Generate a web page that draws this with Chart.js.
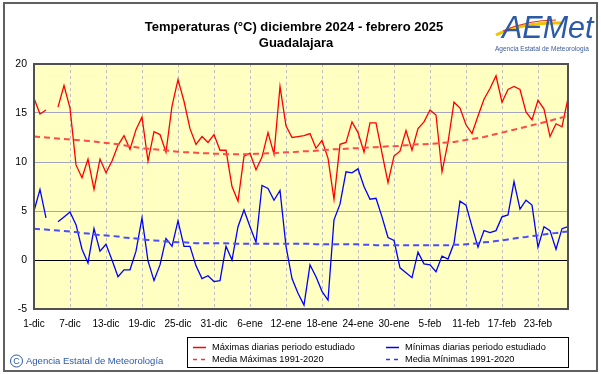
<!DOCTYPE html>
<html>
<head>
<meta charset="utf-8">
<script src="https://cdn.jsdelivr.net/npm/chart.js@4.4.1/dist/chart.umd.min.js"></script>
<style>
  body { margin: 0; background: #fff; }
  #grafico { display: block; }
</style>
</head>
<body>
<canvas id="grafico" width="601" height="374"></canvas>
<script>
// Datos diarios 1-dic-2024 .. 28-feb-2025
const meses = [['dic', 31], ['ene', 31], ['feb', 28]];
const dias = [];
meses.forEach(([m, n]) => {
  for (let d = 1; d <= n; d++) dias.push(d + '-' + m);
});

const maximas = [16.5, 14.9, 15.3, null, 15.6, 17.8, 15.5, 9.7, 8.4, 10.3,
  7.2, 10.3, 8.9, 10.1, 11.7, 12.7, 11.3, 13.3, 14.6, 10.1,
  13.1, 12.8, 11.0, 15.7, 18.4, 16.2, 13.4, 11.8, 12.6, 12.0,
  12.8, 11.2, 11.2, 7.5, 6.0, 10.6, 10.9, 9.2, 10.5, 13.0,
  10.8, 17.7, 13.7, 12.5, 12.6, 12.7, 12.9, 11.4, 12.2, 10.4,
  6.2, 11.8, 12.0, 14.1, 13.0, 11.0, 14.0, 14.0, 10.9, 7.9,
  10.6, 11.1, 13.2, 11.2, 13.4, 14.1, 15.3, 14.8, 9.0, 12.0,
  16.1, 15.5, 13.8, 12.9, 14.7, 16.4, 17.5, 18.8, 16.1, 17.4,
  17.7, 17.4, 15.1, 14.3, 16.3, 15.4, 12.6, 13.9, 13.6, 16.5];

const minimas = [5.0, 7.2, 4.3, null, 3.9, 4.4, 4.9, 3.6, 1.1, -0.3,
  3.2, 0.9, 1.6, 0.0, -1.7, -1.0, -1.0, 0.9, 4.3, -0.1,
  -2.1, -0.5, 2.2, 1.4, 4.0, 1.4, 1.4, -0.6, -1.9, -1.6,
  -2.2, -2.1, 1.4, 0.0, 3.4, 5.1, 3.4, 1.8, 7.6, 7.3,
  6.1, 7.1, 1.4, -1.9, -3.4, -4.6, -0.5, -1.7, -3.2, -4.1,
  4.1, 5.7, 9.0, 8.9, 9.3, 7.5, 6.2, 6.3, 4.4, 2.3,
  2.0, -0.8, -1.3, -1.8, 0.8, -0.4, -0.5, -1.2, 0.4, 0.1,
  1.7, 6.0, 5.6, 3.4, 1.3, 3.0, 2.8, 3.0, 4.4, 4.6,
  8.0, 5.2, 6.1, 5.6, 1.3, 3.4, 3.0, 1.1, 3.2, 3.4];

// Medias 1991-2020
const mediaMaximas = [12.6, 12.55, 12.5, 12.45, 12.4, 12.35, 12.3, 12.25, 12.2, 12.15,
  12.1, 12.0, 11.95, 11.9, 11.8, 11.7, 11.6, 11.5, 11.4, 11.35,
  11.3, 11.25, 11.2, 11.1, 11.05, 11.0, 11.0, 10.95, 10.9, 10.9,
  10.85, 10.85, 10.8, 10.8, 10.8, 10.8, 10.8, 10.85, 10.85, 10.9,
  10.9, 10.95, 11.0, 11.0, 11.05, 11.1, 11.1, 11.15, 11.2, 11.25,
  11.3, 11.3, 11.35, 11.4, 11.4, 11.45, 11.5, 11.5, 11.55, 11.6,
  11.6, 11.65, 11.7, 11.75, 11.8, 11.8, 11.85, 11.9, 11.95, 12.0,
  12.05, 12.15, 12.25, 12.35, 12.45, 12.55, 12.7, 12.85, 13.0, 13.15,
  13.3, 13.45, 13.6, 13.75, 13.9, 14.05, 14.2, 14.4, 14.55, 14.7];

const mediaMinimas = [3.2, 3.15, 3.1, 3.05, 3.0, 2.95, 2.9, 2.85, 2.75, 2.7,
  2.6, 2.55, 2.5, 2.45, 2.4, 2.3, 2.25, 2.2, 2.1, 2.05,
  2.0, 1.95, 1.9, 1.85, 1.8, 1.8, 1.75, 1.7, 1.7, 1.7,
  1.7, 1.7, 1.7, 1.65, 1.65, 1.65, 1.65, 1.65, 1.65, 1.65,
  1.65, 1.65, 1.65, 1.65, 1.65, 1.65, 1.65, 1.6, 1.6, 1.6,
  1.6, 1.6, 1.6, 1.6, 1.6, 1.55, 1.55, 1.5, 1.5, 1.5,
  1.5, 1.5, 1.5, 1.5, 1.5, 1.5, 1.5, 1.5, 1.5, 1.5,
  1.55, 1.55, 1.6, 1.65, 1.7, 1.8, 1.85, 1.95, 2.0, 2.1,
  2.2, 2.3, 2.35, 2.45, 2.5, 2.6, 2.7, 2.75, 2.85, 2.9];

const titulo = 'Temperaturas (°C) diciembre 2024 - febrero 2025';
const estacion = 'Guadalajara';
const leyenda = [
  'Máximas diarias periodo estudiado',
  'Mínimas diarias periodo estudiado',
  'Media Máximas 1991-2020',
  'Media Mínimas 1991-2020'
];
const agencia = 'Agencia Estatal de Meteorología';

const FUENTE = '"Liberation Sans", Arial, sans-serif';

// ajusta el tamaño de letra para que el texto ocupe un ancho dado
function fuenteAjustada(ctx, txt, ancho, estilo, max) {
  let t = max;
  ctx.font = estilo + t + 'px ' + FUENTE;
  while (t > 5 && ctx.measureText(txt).width > ancho) {
    t -= 0.25;
    ctx.font = estilo + t + 'px ' + FUENTE;
  }
}

// Dibujo de marco, fondo, titulo, logo y leyenda
const decorado = {
  id: 'decorado',
  beforeDraw(chart) {
    const ctx = chart.ctx;
    const a = chart.chartArea;
    ctx.save();
    ctx.fillStyle = '#fff';
    ctx.fillRect(0, 0, chart.width, chart.height);
    // fondo zona grafica
    ctx.fillStyle = '#ffffc2';
    ctx.fillRect(a.left, a.top, a.right - a.left, a.bottom - a.top);
    ctx.restore();
  },
  beforeDatasetsDraw(chart) {
    const ctx = chart.ctx;
    const a = chart.chartArea;
    const x = chart.scales.x;
    ctx.save();
    ctx.strokeStyle = '#bdbdbd';
    ctx.lineWidth = 1;
    ctx.setLineDash([3, 3]);
    for (let i = 6; i < dias.length; i += 6) {
      const px = Math.round(x.getPixelForValue(i)) + 0.5;
      ctx.beginPath();
      ctx.moveTo(px, a.top);
      ctx.lineTo(px, a.bottom);
      ctx.stroke();
    }
    ctx.restore();
  },
  afterDraw(chart) {
    const ctx = chart.ctx;
    const a = chart.chartArea;
    ctx.save();

    // borde zona grafica
    ctx.strokeStyle = '#505050';
    ctx.lineWidth = 2;
    ctx.strokeRect(a.left, a.top, a.right - a.left, a.bottom - a.top);

    // marco exterior
    ctx.strokeStyle = '#606060';
    ctx.lineWidth = 2;
    ctx.strokeRect(4, 3, 593, 368);

    // titulo
    ctx.fillStyle = '#000';
    ctx.textAlign = 'center';
    ctx.textBaseline = 'middle';
    fuenteAjustada(ctx, titulo, 303, 'bold ', 13);
    ctx.fillText(titulo, 294, 27);
    ctx.fillText(estacion, 296, 43);

    // logo AEMET
    ctx.strokeStyle = '#f2c200';
    ctx.lineWidth = 3;
    ctx.beginPath();
    ctx.moveTo(496, 35);
    ctx.quadraticCurveTo(522, 22, 562, 23);
    ctx.stroke();
    ctx.strokeStyle = '#e03020';
    ctx.lineWidth = 1.2;
    ctx.beginPath();
    ctx.moveTo(503, 31);
    ctx.quadraticCurveTo(527, 20, 556, 20);
    ctx.stroke();
    ctx.fillStyle = '#2a5aa8';
    ctx.textAlign = 'left';
    ctx.textBaseline = 'alphabetic';
    fuenteAjustada(ctx, 'AEMet', 92, 'italic ', 34);
    ctx.fillText('AEMet', 502, 38);
    ctx.fillStyle = '#3a5a9a';
    ctx.textAlign = 'center';
    fuenteAjustada(ctx, agencia, 96, '', 8);
    ctx.fillText(agencia, 542, 51);

    // leyenda
    const lx = 187, ly = 337, lw = 381, lh = 30;
    ctx.fillStyle = '#fff';
    ctx.fillRect(lx, ly, lw, lh);
    ctx.strokeStyle = '#000';
    ctx.lineWidth = 1;
    ctx.strokeRect(lx + 0.5, ly + 0.5, lw, lh);

    const entradas = [
      { txt: leyenda[0], color: '#ff0000', dash: [], x: 193, y: 347 },
      { txt: leyenda[1], color: '#0000ff', dash: [], x: 386, y: 347 },
      { txt: leyenda[2], color: '#ff3030', dash: [4, 4], x: 193, y: 359 },
      { txt: leyenda[3], color: '#3030ff', dash: [4, 4], x: 386, y: 359 }
    ];
    fuenteAjustada(ctx, leyenda[0], 144, '', 10);
    ctx.textAlign = 'left';
    ctx.textBaseline = 'middle';
    entradas.forEach(e => {
      ctx.strokeStyle = e.color;
      ctx.lineWidth = 1.5;
      ctx.setLineDash(e.dash);
      ctx.beginPath();
      ctx.moveTo(e.x, e.y + 0.5);
      ctx.lineTo(e.x + 13, e.y + 0.5);
      ctx.stroke();
      ctx.setLineDash([]);
      ctx.fillStyle = '#000';
      ctx.fillText(e.txt, e.x + 19, e.y);
    });

    // copyright
    ctx.strokeStyle = '#2a5aa8';
    ctx.lineWidth = 1;
    ctx.beginPath();
    ctx.arc(16.5, 361, 6, 0, Math.PI * 2);
    ctx.stroke();
    ctx.fillStyle = '#2a5aa8';
    ctx.font = '9px ' + FUENTE;
    ctx.textAlign = 'center';
    ctx.fillText('C', 16.5, 361.5);
    ctx.textAlign = 'left';
    fuenteAjustada(ctx, agencia, 138, '', 10);
    ctx.fillText(agencia, 26, 361);

    ctx.restore();
  }
};

const ctx = document.getElementById('grafico').getContext('2d');

new Chart(ctx, {
  type: 'line',
  data: {
    labels: dias,
    datasets: [
      {
        label: leyenda[2],
        data: mediaMaximas,
        borderColor: '#ff4a4a',
        borderWidth: 2,
        borderDash: [6, 4],
        pointRadius: 0,
        tension: 0
      },
      {
        label: leyenda[3],
        data: mediaMinimas,
        borderColor: '#4a4aff',
        borderWidth: 2,
        borderDash: [6, 4],
        pointRadius: 0,
        tension: 0
      },
      {
        label: leyenda[0],
        data: maximas,
        borderColor: '#ff0000',
        borderWidth: 1.3,
        pointRadius: 0,
        tension: 0,
        spanGaps: false
      },
      {
        label: leyenda[1],
        data: minimas,
        borderColor: '#0000ff',
        borderWidth: 1.3,
        pointRadius: 0,
        tension: 0,
        spanGaps: false
      }
    ]
  },
  options: {
    responsive: false,
    animation: false,
    layout: {
      padding: { left: 0, right: 33, top: 64, bottom: 45 }
    },
    plugins: {
      legend: { display: false },
      tooltip: { enabled: false },
      title: { display: false }
    },
    scales: {
      x: {
        type: 'category',
        offset: false,
        grid: { display: false, drawTicks: false },
        border: { display: false },
        ticks: {
          autoSkip: false,
          maxRotation: 0,
          minRotation: 0,
          padding: 9,
          color: '#000',
          font: { family: FUENTE, size: 10 },
          callback: (v, i) => (i % 6 === 0 ? dias[i] : '')
        },
        afterFit: s => { s.height = 20; }
      },
      y: {
        min: -5,
        max: 20,
        grid: {
          drawTicks: false,
          color: c => (c.tick.value === 0 ? '#000' : '#a4a4bc'),
          lineWidth: 1
        },
        border: { display: false },
        ticks: {
          stepSize: 5,
          padding: 7,
          color: '#000',
          font: { family: FUENTE, size: 10.5 }
        },
        afterFit: s => { s.width = 34; }
      }
    }
  },
  plugins: [decorado]
});
</script>
</body>
</html>
